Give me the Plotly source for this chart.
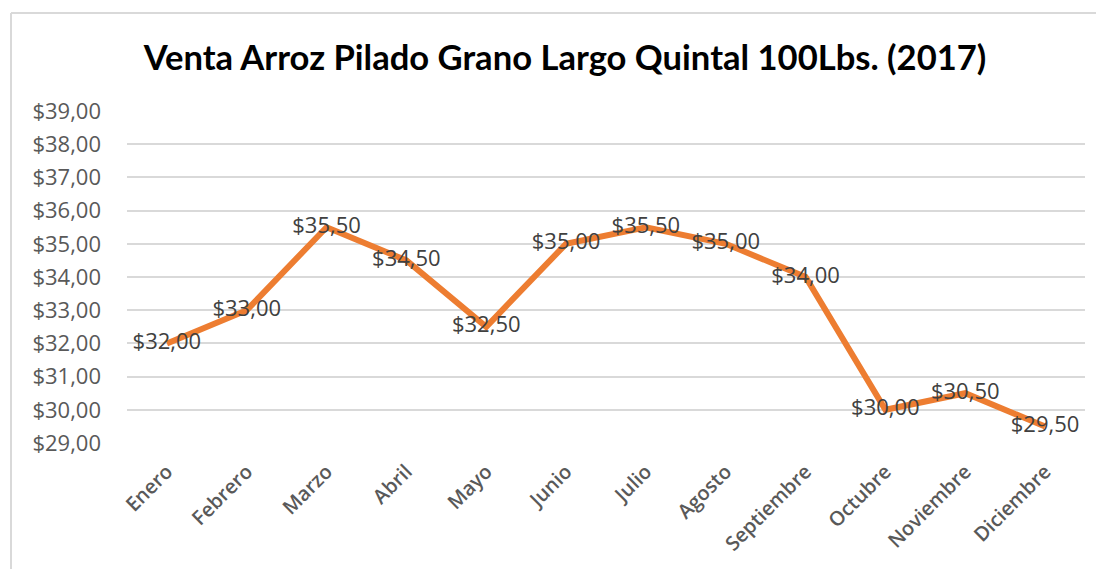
import plotly.graph_objects as go

months = ["Enero", "Febrero", "Marzo", "Abril", "Mayo", "Junio", "Julio",
          "Agosto", "Septiembre", "Octubre", "Noviembre", "Diciembre"]
prices = [32.00, 33.00, 35.50, 34.50, 32.50, 35.00, 35.50, 35.00, 34.00, 30.00, 30.50, 29.50]
y_ticks = [29, 30, 31, 32, 33, 34, 35, 36, 37, 38, 39]
title_text = "Venta Arroz Pilado Grano Largo Quintal 100Lbs. (2017)"

def fmt(v):
    return "$" + f"{v:.2f}".replace(".", ",")

W, H = 1104, 569
OFF = 8  # page offset of the figure inside the browser window
L, T = 127 - OFF, 111 - OFF
R = W - (1085 - OFF)
B = H - (443 - OFF)

fig = go.Figure()
fig.add_trace(go.Scatter(
    x=months, y=prices, mode="lines+text",
    line=dict(color="#ED7D31", width=6),
    text=[fmt(v) for v in prices],
    textposition="middle center",
    textfont=dict(family="Open Sans", size=22, color="#404040"),
    hoverinfo="skip", showlegend=False,
))

fig.update_layout(
    width=W, height=H,
    margin=dict(l=L, r=R, t=T, b=B),
    paper_bgcolor="white", plot_bgcolor="white",
    title=dict(text="<b>" + title_text + "</b>",
               font=dict(family="Lato", size=34.6, color="black"),
               x=(565 - OFF) / W, xanchor="center", xref="container",
               y=1 - (58 - OFF) / H, yanchor="middle", yref="container"),
    xaxis=dict(type="category", range=[-0.5, 11.5], showgrid=False,
               showline=False, zeroline=False, ticks="", tickangle=-45,
               ticklabelstandoff=12,
               tickfont=dict(family="Open Sans", size=20, color="#595959", weight=600)),
    yaxis=dict(range=[29, 39], tickvals=y_ticks, ticktext=[fmt(v) for v in y_ticks],
               showgrid=True, gridcolor="#D9D9D9", gridwidth=1.5,
               showline=False, zeroline=False, ticks="",
               ticklabelstandoff=25,
               tickfont=dict(family="Open Sans", size=22, color="#595959")),
)

# chart border (only left and top visible in the cropped reference)
pw, ph = W - L - R, H - T - B
x0 = (11 - OFF - L) / pw
y0 = (H - B - (13 - OFF)) / ph
fig.add_shape(type="line", xref="paper", yref="paper",
              x0=x0, x1=x0, y0=y0, y1=(H - B - 600) / ph,
              line=dict(color="#D9D9D9", width=2))
fig.add_shape(type="line", xref="paper", yref="paper",
              x0=x0, x1=(1150 - L) / pw, y0=y0, y1=y0,
              line=dict(color="#D9D9D9", width=2))

fig.write_html("out.html")
